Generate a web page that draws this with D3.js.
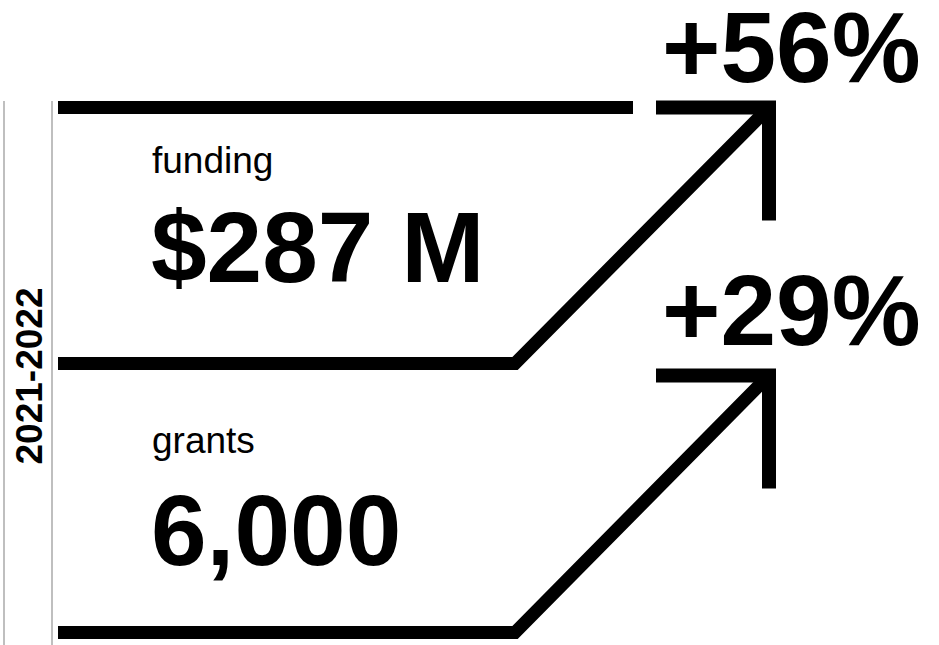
<!DOCTYPE html>
<html>
<head>
<meta charset="utf-8">
<script src="https://cdn.jsdelivr.net/npm/d3@7"></script>
<style>
  body { margin: 0; background: #fff; }
  text { font-family: "Liberation Sans", Arial, Helvetica, sans-serif; fill: #000; }
</style>
</head>
<body>
<div id="chart"></div>
<script>
period = "2021-2022";
metricNames = ["funding", "grants"];
metricValues = ["$287 M", "6,000"];
metricChanges = ["+56%", "+29%"];

width = 939;
height = 645;

// one scale per row of the layout, indexed by panel
baseY = d3.scaleLinear().domain([0, 1]).range([363.5, 632.5]);
arrowY = d3.scaleLinear().domain([0, 1]).range([107.5, 375.5]);
nameY = d3.scaleLinear().domain([0, 1]).range([173, 453]);
valueY = d3.scaleLinear().domain([0, 1]).range([282, 565]);
changeY = d3.scaleLinear().domain([0, 1]).range([82, 345]);

lineStart = 58;
bendX = 515;
tipX = 769;
headStart = 656;
stroke = 13;

svg = d3.select("#chart").append("svg")
    .attr("width", width)
    .attr("height", height);

// period rule + rotated label
svg.selectAll("line.rule")
    .data([4, 52]).enter()
    .append("line")
    .attr("class", "rule")
    .attr("x1", (d) => d).attr("x2", (d) => d)
    .attr("y1", 101).attr("y2", height)
    .attr("stroke", "#aaa")
    .attr("stroke-width", 1.5);

svg.append("text")
    .text(period)
    .attr("transform", "translate(42,376) rotate(-90)")
    .style("text-anchor", "middle")
    .style("font-size", "37px")
    .style("font-weight", "bold");

// top line of the first panel
svg.append("line")
    .attr("x1", lineStart).attr("x2", 633)
    .attr("y1", arrowY(0)).attr("y2", arrowY(0))
    .attr("stroke", "#000")
    .attr("stroke-width", stroke);

panels = svg.selectAll("g.panel")
    .data(metricNames).enter()
    .append("g")
    .attr("class", "panel");

// baseline bending up into the arrow
panels.append("path")
    .attr("d", (d, i) => d3.line()([
        [lineStart, baseY(i)],
        [bendX, baseY(i)],
        [tipX, arrowY(i)]
    ]))
    .attr("fill", "none")
    .attr("stroke", "#000")
    .attr("stroke-width", stroke)
    .attr("stroke-linejoin", "miter");

// arrow head
panels.append("path")
    .attr("d", (d, i) => d3.line()([
        [headStart, arrowY(i)],
        [tipX, arrowY(i)],
        [tipX, arrowY(i) + 113]
    ]))
    .attr("fill", "none")
    .attr("stroke", "#000")
    .attr("stroke-width", stroke + 1)
    .attr("stroke-linejoin", "miter");

panels.append("text")
    .text((d) => d)
    .attr("x", 152)
    .attr("y", (d, i) => nameY(i))
    .style("font-size", "37px");

panels.append("text")
    .text((d, i) => metricValues[i])
    .attr("x", 151)
    .attr("y", (d, i) => valueY(i))
    .style("font-size", "100px")
    .style("font-weight", "bold");

panels.append("text")
    .text((d, i) => metricChanges[i])
    .attr("x", 662)
    .attr("y", (d, i) => changeY(i))
    .style("font-size", "100px")
    .style("font-weight", "bold");
</script>
</body>
</html>
